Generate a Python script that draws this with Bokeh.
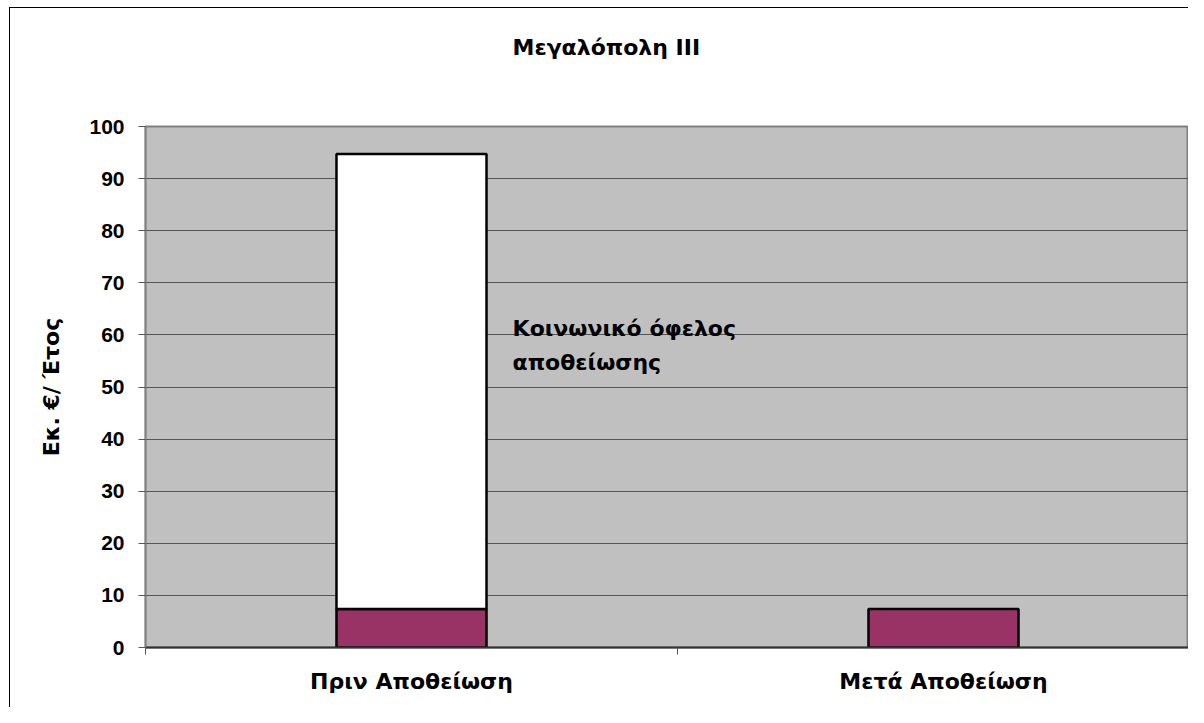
from bokeh.plotting import figure
from bokeh.models import Range1d, FixedTicker, InlineStyleSheet
from bokeh.core.properties import value
from bokeh.embed import file_html
from bokeh.resources import INLINE

title = "Μεγαλόπολη ΙΙΙ"
categories = ["Πριν Αποθείωση", "Μετά Αποθείωση"]
base_cost = [7.4, 7.4]
social_benefit = [87.3, 0.0]
y_label = "Εκ. €/ Έτος"
annot_lines = ["Κοινωνικό όφελος", "αποθείωσης"]
annot_x = [0.69, 0.69]
annot_y = [61.2, 54.7]
y_ticks = [0, 10, 20, 30, 40, 50, 60, 70, 80, 90, 100]

NUM_FONT = "Liberation Sans"
GR_FONT = "DejaVu Sans"
W, H = 1188, 707
L, T, B = 145, 126, 60
FW = W - L
FH = H - T - B

xc = [i + 0.5 for i in range(len(categories))]
tops2 = [b + s for b, s in zip(base_cost, social_benefit)]

p = figure(width=W, height=H, output_backend="svg", toolbar_location=None,
           x_range=Range1d(0, FW / 532), y_range=Range1d(0, 100),
           min_border_left=L, min_border_right=0, min_border_top=T,
           min_border_bottom=B)
p.background_fill_color = "#C0C0C0"
p.border_fill_color = "white"
p.outline_line_color = "#808080"
p.outline_line_width = 2

# title (blank trailing lines lift it higher above the frame)
p.title.text = title + "\n\n"
p.title.align = "left"
p.title.offset = 367
p.title.vertical_align = "top"
p.title.standoff = 30
p.title.text_font = GR_FONT
p.title.text_font_style = "bold"
p.title.text_font_size = "22px"
p.title.text_color = "black"

# bars
p.vbar(x=xc, bottom=0, top=base_cost, width=0.282, fill_color="#993366",
       line_color="black", line_width=2.5)
sel = [i for i, s in enumerate(social_benefit) if s > 0]
p.vbar(x=[xc[i] for i in sel], bottom=[base_cost[i] for i in sel],
       top=[tops2[i] for i in sel], width=0.282, fill_color="white",
       line_color="black", line_width=2.5)

# annotation text
p.text(x=annot_x, y=annot_y, text=annot_lines, text_font=value(GR_FONT),
       text_font_style="bold", text_font_size="22px", text_color="black",
       text_baseline="middle", text_align="left")

# y axis
p.yaxis.ticker = FixedTicker(ticks=y_ticks)
p.yaxis.axis_label = y_label
p.yaxis.axis_label_text_font = GR_FONT
p.yaxis.axis_label_text_font_style = "bold"
p.yaxis.axis_label_text_font_size = "22px"
p.yaxis.axis_label_text_color = "black"
p.yaxis.axis_label_standoff = 22
p.yaxis.major_label_text_font = NUM_FONT
p.yaxis.major_label_text_font_style = "bold"
p.yaxis.major_label_text_font_size = "21px"
p.yaxis.major_label_text_color = "black"
p.yaxis.major_label_standoff = 14
p.yaxis.major_tick_out = 7
p.yaxis.major_tick_in = 0
p.yaxis.major_tick_line_color = "#555555"
p.yaxis.minor_tick_line_color = None
p.yaxis.axis_line_color = "#808080"
p.yaxis.axis_line_width = 1.5

# x axis
p.xaxis.ticker = FixedTicker(ticks=xc, minor_ticks=[0, 1, 2])
p.xaxis.major_label_overrides = {x: c for x, c in zip(xc, categories)}
p.xaxis.major_label_text_font = GR_FONT
p.xaxis.major_label_text_font_style = "bold"
p.xaxis.major_label_text_font_size = "22px"
p.xaxis.major_label_text_color = "black"
p.xaxis.major_label_standoff = 14
p.xaxis.major_tick_line_color = None
p.xaxis.major_tick_out = 0
p.xaxis.major_tick_in = 0
p.xaxis.minor_tick_out = 7
p.xaxis.minor_tick_in = 0
p.xaxis.minor_tick_line_color = "#555555"
p.xaxis.axis_line_color = "#333333"
p.xaxis.axis_line_width = 2

# grid
p.xgrid.grid_line_color = None
p.ygrid.ticker = FixedTicker(ticks=y_ticks[1:-1])
p.ygrid.grid_line_color = "#555555"
p.ygrid.grid_line_width = 1

# outer chart border (left and top edges are visible in the reference)
p.stylesheets = [InlineStyleSheet(css="""
:host { position: relative; }
:host::after {
  content: ""; position: absolute; left: 9px; top: 7px; right: 0; bottom: 0;
  border-left: 1.5px solid black; border-top: 1.5px solid black;
  pointer-events: none; z-index: 10;
}
""")]

open("out.html", "w").write(file_html(p, INLINE))
